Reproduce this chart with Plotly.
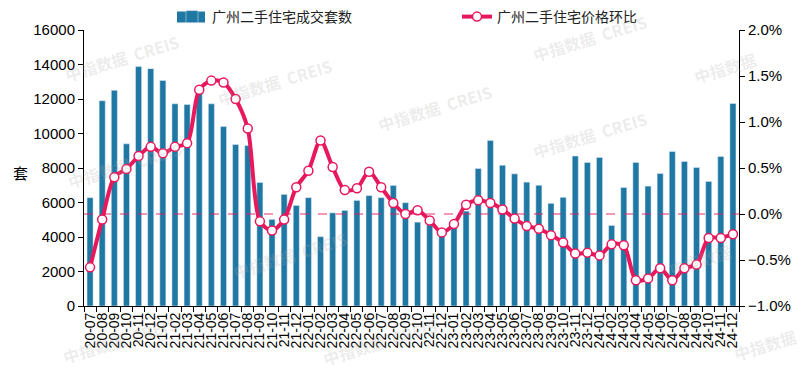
import plotly.graph_objects as go

months = ["20-07","20-08","20-09","20-10","20-11","20-12",
          "21-01","21-02","21-03","21-04","21-05","21-06","21-07","21-08","21-09","21-10","21-11","21-12",
          "22-01","22-02","22-03","22-04","22-05","22-06","22-07","22-08","22-09","22-10","22-11","22-12",
          "23-01","23-02","23-03","23-04","23-05","23-06","23-07","23-08","23-09","23-10","23-11","23-12",
          "24-01","24-02","24-03","24-04","24-05","24-06","24-07","24-08","24-09","24-10","24-11","24-12"]

volume = [6280, 11900, 12500, 9400, 13880, 13760,
          13070, 11720, 11680, 12400, 11720, 10400, 9360, 9300, 7160, 5020, 6470, 5830,
          6280, 4020, 5400, 5540, 6120, 6400, 6280, 6990, 5990, 4860, 4700, 4300,
          4600, 5500, 7970, 9590, 8160, 7660, 7180, 7000, 5950, 6300, 8690, 8320,
          8610, 4670, 6870, 8320, 6950, 7680, 8960, 8380, 8030, 7220, 8670, 11740]

price_mom = [-0.58, -0.06, 0.40, 0.49, 0.63, 0.73,
             0.66, 0.73, 0.77, 1.35, 1.45, 1.43, 1.25, 0.93, -0.08, -0.18, -0.06, 0.29,
             0.47, 0.80, 0.51, 0.26, 0.28, 0.46, 0.29, 0.12, 0.00, 0.04, -0.07, -0.20,
             -0.11, 0.10, 0.15, 0.12, 0.05, -0.05, -0.13, -0.16, -0.23, -0.31, -0.43, -0.42,
             -0.45, -0.33, -0.34, -0.72, -0.70, -0.59, -0.72, -0.59, -0.55, -0.26, -0.26, -0.22]

bar_name = "广州二手住宅成交套数"
line_name = "广州二手住宅价格环比"

BAR_COLOR = "#1f78a4"
LINE_COLOR = "#e8185c"
FONT = "Liberation Sans, Arial, Noto Sans CJK SC, sans-serif"

L, R, T, B = 84, 69, 30, 64
W, H = 808, 370
pw, ph = W - L - R, H - T - B

fig = go.Figure()
fig.add_trace(go.Bar(x=months, y=volume, name=bar_name, marker_color=BAR_COLOR,
                     yaxis="y"))
fig.add_trace(go.Scatter(x=months, y=price_mom, name=line_name, yaxis="y2",
                         mode="lines+markers",
                         line=dict(color=LINE_COLOR, width=4, shape="spline", smoothing=0.8),
                         marker=dict(size=9, color="white", line=dict(color=LINE_COLOR, width=1.5))))

# zero reference dashed line on right axis
fig.add_shape(type="line", xref="paper", yref="y2", x0=0, x1=1, y0=0, y1=0,
              line=dict(color="rgba(232,24,92,0.6)", width=1.5, dash="dash"), layer="above")

# wide legend swatch for the bar series (as in the original legend)
fig.add_shape(type="rect", xref="paper", yref="paper",
              x0=(177 - L) / pw, x1=(205 - L) / pw,
              y0=(H - B - 22.5) / ph, y1=(H - B - 11.5) / ph,
              fillcolor=BAR_COLOR, line=dict(width=0), layer="above")

# watermarks (centre positions given in figure pixels)
wm = [(122, 58, "中指数据  CREIS"), (275, 82, "中指数据  CREIS"), (590, 38, "中指数据  CREIS"),
      (725, 68, "中指数据"), (435, 108, "中指数据  CREIS"), (590, 135, "中指数据  CREIS"),
      (125, 165, "中指数据  CREIS"), (290, 255, "中指数据  CREIS"), (700, 260, "中指数据"),
      (120, 340, "中指数据  CREIS"), (380, 342, "中指数据  CREIS"), (765, 345, "中指数据")]
for (px, py, t) in wm:
    fig.add_annotation(x=(px - L) / pw, y=(H - B - py) / ph, xref="paper", yref="paper",
                       xanchor="center", yanchor="middle",
                       text="<b>" + t + "</b>", showarrow=False, textangle=-17,
                       font=dict(size=16, color="rgba(170,170,170,0.22)",
                                 family="Noto Sans CJK SC, Liberation Sans"))

fig.add_annotation(x=(20 - L) / pw, y=(H - B - 172) / ph, xref="paper", yref="paper",
                   xanchor="center", yanchor="middle",
                   text="套", showarrow=False,
                   font=dict(size=15, color="black", family="Noto Sans CJK SC"))

fig.update_layout(
    width=W, height=H,
    margin=dict(l=L, r=R, t=T, b=B, autoexpand=False),
    plot_bgcolor="white", paper_bgcolor="white",
    font=dict(family=FONT, size=15, color="black"),
    bargap=0.5,
    showlegend=True,
    legend=dict(orientation="h", xref="container", yref="container",
                x=172 / W, y=1 - 17 / H, xanchor="left", yanchor="middle",
                font=dict(size=14, family="Noto Sans CJK SC, Liberation Sans", color="#222"),
                entrywidth=240, bgcolor="rgba(0,0,0,0)"),
    xaxis=dict(type="category", range=[-0.5, len(months) - 0.5], autorange=False,
               tickmode="linear", dtick=1, tickangle=-90, ticks="outside",
               ticklen=5, tickson="boundaries",
               showline=True, linecolor="black", linewidth=1, tickcolor="black",
               showgrid=False, tickfont=dict(size=14), automargin=False),
    yaxis=dict(range=[0, 16000], dtick=2000, tickformat="d", ticks="outside", ticklen=5,
               showline=True, linecolor="black", linewidth=1, tickcolor="black",
               showgrid=False, zeroline=False, automargin=False),
    yaxis2=dict(range=[-1, 2], dtick=0.5, tickformat=".1f", ticksuffix="%", overlaying="y",
                side="right", ticks="outside", ticklen=5, showline=True, linecolor="black",
                linewidth=1, tickcolor="black", showgrid=False, zeroline=False, automargin=False),
)

fig.write_html("out.html", config={"displayModeBar": False},
               post_script="document.body.style.margin='0';document.body.style.overflow='hidden';")
